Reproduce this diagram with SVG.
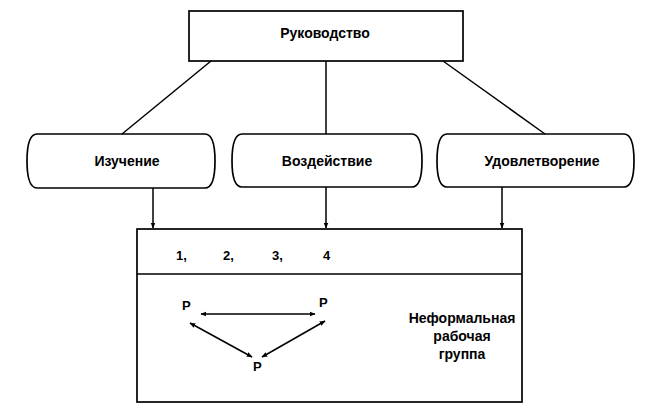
<svg xmlns="http://www.w3.org/2000/svg" width="650" height="416" viewBox="0 0 650 416">
<style>
.box{fill:#fff;stroke:#000;stroke-width:1.7}
.ln{fill:none;stroke:#000;stroke-width:1.5}
.lbl{font-family:"Liberation Sans",Arial,sans-serif;font-size:14px;font-weight:bold;fill:#000;text-anchor:middle}
.num{font-family:"Liberation Sans",Arial,sans-serif;font-size:13px;font-weight:bold;fill:#000}
</style>
<defs>
<marker id="ah" viewBox="0 0 10 10" refX="9" refY="5" markerWidth="6" markerHeight="6" markerUnits="userSpaceOnUse" orient="auto-start-reverse">
<path d="M0,1 L10,5 L0,9 Z" fill="#000"/>
</marker>
</defs>
<rect width="650" height="416" fill="#fff"/>
<g id="rukovodstvo">
<rect class="box" x="189" y="11" width="274" height="50"/>
<text class="lbl" x="325" y="38">Руководство</text>
</g>
<g id="izuchenie">
<path class="box" d="M37,134 H205 C213,134 215,148 215,161 C215,174 213,188 205,188 H37 C29,188 27,174 27,161 C27,148 29,134 37,134 Z"/>
<text class="lbl" x="127" y="166">Изучение</text>
</g>
<g id="vozdeystvie">
<path class="box" d="M242,134 H412 C420,134 422,148 422,161 C422,174 420,187 412,187 H242 C234,187 232,174 232,161 C232,148 234,134 242,134 Z"/>
<text class="lbl" x="327" y="166">Воздействие</text>
</g>
<g id="udovletvorenie">
<path class="box" d="M447,134 H624 C632,134 634,148 634,161 C634,174 632,187 624,187 H447 C439,187 437,174 437,161 C437,148 439,134 447,134 Z"/>
<text class="lbl" x="542" y="166">Удовлетворение</text>
</g>
<g id="gruppa">
<rect class="box" x="137" y="229" width="385" height="173"/>
<line class="ln" x1="137" y1="274" x2="522" y2="274"/>
<text class="num" x="176" y="260">1,</text>
<text class="num" x="223" y="260">2,</text>
<text class="num" x="272" y="260">3,</text>
<text class="num" x="323" y="260">4</text>
<text class="num" x="182" y="310" font-size="14">Р</text>
<text class="num" x="319" y="307" font-size="14">Р</text>
<text class="num" x="253" y="371" font-size="14">Р</text>
<text class="lbl" x="462" y="323">Неформальная</text>
<text class="lbl" x="462" y="341">рабочая</text>
<text class="lbl" x="462" y="359">группа</text>
</g>
<g id="connectors">
<line class="ln" x1="211" y1="61" x2="122" y2="134"/>
<line class="ln" x1="326" y1="61" x2="326" y2="134"/>
<line class="ln" x1="443" y1="61" x2="545" y2="134"/>
<line class="ln" x1="153" y1="188" x2="153" y2="228" marker-end="url(#ah)"/>
<line class="ln" x1="326" y1="187" x2="326" y2="228" marker-end="url(#ah)"/>
<line class="ln" x1="502" y1="187" x2="502" y2="228" marker-end="url(#ah)"/>
<line class="ln" x1="201" y1="314" x2="315" y2="314" marker-start="url(#ah)" marker-end="url(#ah)"/>
<line class="ln" x1="190" y1="323" x2="252" y2="357" marker-start="url(#ah)" marker-end="url(#ah)"/>
<line class="ln" x1="325" y1="321" x2="262" y2="357" marker-start="url(#ah)" marker-end="url(#ah)"/>
</g>
</svg>
